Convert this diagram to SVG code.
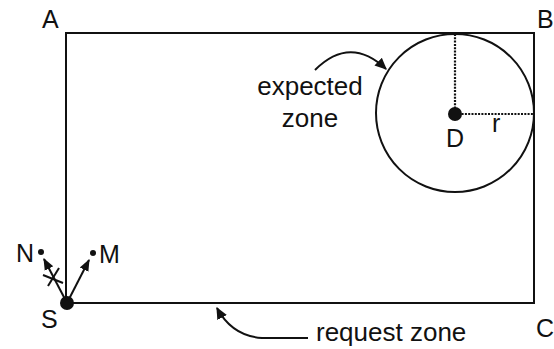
<svg xmlns="http://www.w3.org/2000/svg" width="554" height="349" viewBox="0 0 554 349">
<style>
text{font-family:"Liberation Sans",Arial,sans-serif;font-size:25px;fill:#111}
.lbl{font-size:26px}
.ln{stroke:#111;stroke-width:2;fill:none}
.dot{stroke:#111;stroke-width:2.2;fill:none;stroke-dasharray:2 1.3}
</style>
<defs>
<marker id="ah" viewBox="0 0 10 10" refX="9" refY="5" markerWidth="6" markerHeight="6" orient="auto" markerUnits="strokeWidth"><path d="M0,0.5 L10,5 L0,9.5 z" fill="#111"/></marker>
<marker id="ahs" viewBox="0 0 10 10" refX="9" refY="5" markerWidth="6" markerHeight="6" orient="auto" markerUnits="strokeWidth"><path d="M0,1 L10,5 L0,9 z" fill="#111"/></marker>
</defs>
<g id="request-zone">
<rect x="66" y="33" width="468" height="270" class="ln"/>
<text x="316" y="341" class="lbl">request zone</text>
</g>
<g id="corners">
<text x="42" y="28">A</text>
<text x="537" y="28">B</text>
<text x="536" y="337">C</text>
</g>
<g id="expected-zone">
<circle cx="455" cy="113" r="79" class="ln"/>
<text x="310" y="95" text-anchor="middle" class="lbl">expected</text>
<text x="310" y="127" text-anchor="middle" class="lbl">zone</text>
</g>
<g id="D">
<line x1="455" y1="34" x2="455" y2="113" class="dot"/>
<line x1="455" y1="114" x2="533" y2="114" class="dot"/>
<circle cx="455" cy="114" r="7" fill="#111"/>
<text x="455" y="147" text-anchor="middle">D</text>
<text x="492" y="132">r</text>
</g>
<g id="S">
<circle cx="67" cy="303" r="7" fill="#111"/>
<text x="41" y="328">S</text>
</g>
<g id="N">
<circle cx="41" cy="252" r="3" fill="#111"/>
<text x="16" y="262">N</text>
</g>
<g id="M">
<circle cx="93" cy="253" r="3" fill="#111"/>
<text x="99" y="263">M</text>
</g>
<g id="connectors">
<line x1="66" y1="301" x2="44" y2="259" class="ln" marker-end="url(#ahs)"/>
<line x1="68" y1="301" x2="89" y2="260" class="ln" marker-end="url(#ahs)"/>
<line x1="43" y1="275" x2="63" y2="283" class="ln"/>
<line x1="48" y1="286" x2="59" y2="268" class="ln"/>
<path d="M315,70 Q350,35 386,69" class="ln" marker-end="url(#ah)"/>
<path d="M308,338 L262,338 Q232,336 217,308" class="ln" marker-end="url(#ah)"/>
</g>
</svg>
